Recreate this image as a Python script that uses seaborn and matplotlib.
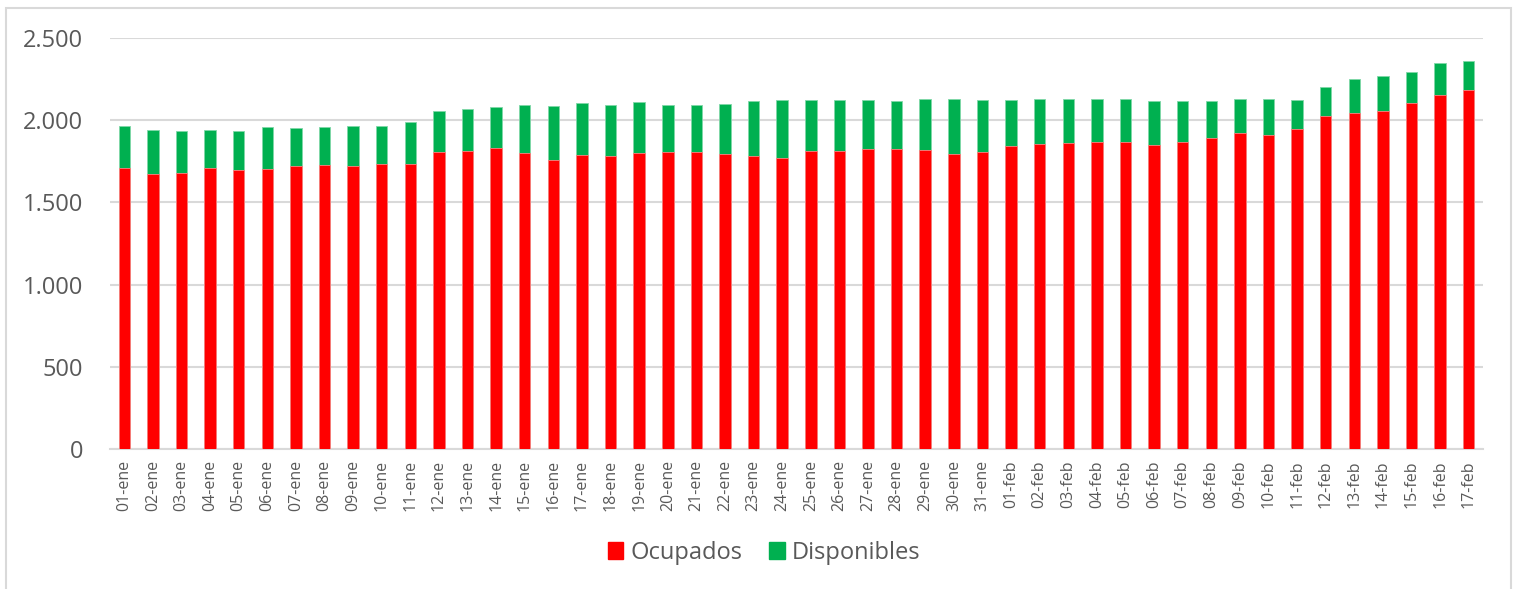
import matplotlib
matplotlib.use("Agg")
import matplotlib.pyplot as plt
import matplotlib.patches as mpatches
from matplotlib.ticker import FuncFormatter, FixedLocator
import seaborn as sns
import pandas as pd
import numpy as np

dates = ["01-ene", "02-ene", "03-ene", "04-ene", "05-ene", "06-ene", "07-ene", "08-ene",
         "09-ene", "10-ene", "11-ene", "12-ene", "13-ene", "14-ene", "15-ene", "16-ene",
         "17-ene", "18-ene", "19-ene", "20-ene", "21-ene", "22-ene", "23-ene", "24-ene",
         "25-ene", "26-ene", "27-ene", "28-ene", "29-ene", "30-ene", "31-ene", "01-feb",
         "02-feb", "03-feb", "04-feb", "05-feb", "06-feb", "07-feb", "08-feb", "09-feb",
         "10-feb", "11-feb", "12-feb", "13-feb", "14-feb", "15-feb", "16-feb", "17-feb"]

ocupados = [1711, 1671, 1681, 1711, 1697, 1701, 1721, 1726, 1721, 1734, 1734, 1805,
            1813, 1831, 1799, 1760, 1789, 1785, 1803, 1809, 1809, 1797, 1785, 1770,
            1813, 1813, 1825, 1823, 1819, 1795, 1807, 1846, 1856, 1860, 1870, 1870,
            1850, 1870, 1894, 1925, 1907, 1945, 2028, 2045, 2053, 2102, 2156, 2181]

totales = [1963, 1941, 1937, 1939, 1937, 1957, 1953, 1957, 1963, 1967, 1988, 2055,
           2069, 2079, 2090, 2088, 2102, 2091, 2110, 2091, 2094, 2100, 2118, 2124,
           2122, 2122, 2122, 2118, 2126, 2126, 2124, 2124, 2130, 2130, 2128, 2128,
           2116, 2116, 2116, 2128, 2126, 2122, 2203, 2250, 2268, 2295, 2350, 2362]

disponibles = [t - o for t, o in zip(totales, ocupados)]

df = pd.DataFrame({"fecha": dates, "Ocupados": ocupados, "Disponibles": disponibles})
df["Total"] = df["Ocupados"] + df["Disponibles"]

RED = "#FF0000"
GREEN = "#00B050"
GRAY_TXT = "#595959"
GRID = "#D9D9D9"

sns.set_style("white")
plt.rcParams["font.family"] = ["Open Sans", "DejaVu Sans"]

fig = plt.figure(figsize=(15.17, 5.89), dpi=100)
ax = fig.add_axes([110 / 1517, 1 - 449 / 589, (1483 - 110) / 1517, (449 - 38) / 589])

sns.barplot(data=df, x="fecha", y="Total", color=GREEN, width=0.4, ax=ax,
            edgecolor="#7fd8a8", linewidth=0.6, saturation=1, zorder=3)
sns.barplot(data=df, x="fecha", y="Ocupados", color=RED, width=0.4, ax=ax,
            edgecolor="#ff8080", linewidth=0.6, saturation=1, zorder=4)

ax.set_xlim(-0.5, len(dates) - 0.5)
ax.set_ylim(0, 2500)
ax.set_yticks([0, 500, 1000, 1500, 2000, 2500])
ax.yaxis.set_major_formatter(FuncFormatter(lambda v, p: f"{int(v):,}".replace(",", ".")))
ax.grid(axis="y", color=GRID, linewidth=1.5, zorder=0)
ax.set_axisbelow(True)

ax.set_xlabel("")
ax.set_ylabel("")
ax.tick_params(axis="x", which="major", length=0, labelsize=11.5, labelcolor=GRAY_TXT,
               rotation=90, pad=8)
ax.xaxis.set_minor_locator(FixedLocator(np.arange(-0.5, len(dates), 1.0)))
ax.tick_params(axis="x", which="minor", length=5, width=1.2, color=GRID)
ax.tick_params(axis="y", length=0, labelsize=17, labelcolor=GRAY_TXT, pad=19.5)

for s in ["top", "right", "left"]:
    ax.spines[s].set_visible(False)
ax.spines["bottom"].set_color(GRID)
ax.spines["bottom"].set_linewidth(1.5)

handles = [mpatches.Patch(color=RED, label="Ocupados"),
           mpatches.Patch(color=GREEN, label="Disponibles")]
leg = fig.legend(handles=handles, loc="center", bbox_to_anchor=(764 / 1517, 1 - 553 / 589),
                 ncol=2, frameon=False, fontsize=17, handlelength=0.65, handleheight=0.75,
                 handletextpad=0.3, columnspacing=1.15)
for t in leg.get_texts():
    t.set_color(GRAY_TXT)

border = mpatches.Rectangle((6 / 1517, -0.05), (1511 - 6) / 1517, 1.05 - 8 / 589,
                            transform=fig.transFigure, fill=False, edgecolor=GRID,
                            linewidth=1.5)
fig.patches.append(border)

fig.savefig("out.png", dpi=100)
